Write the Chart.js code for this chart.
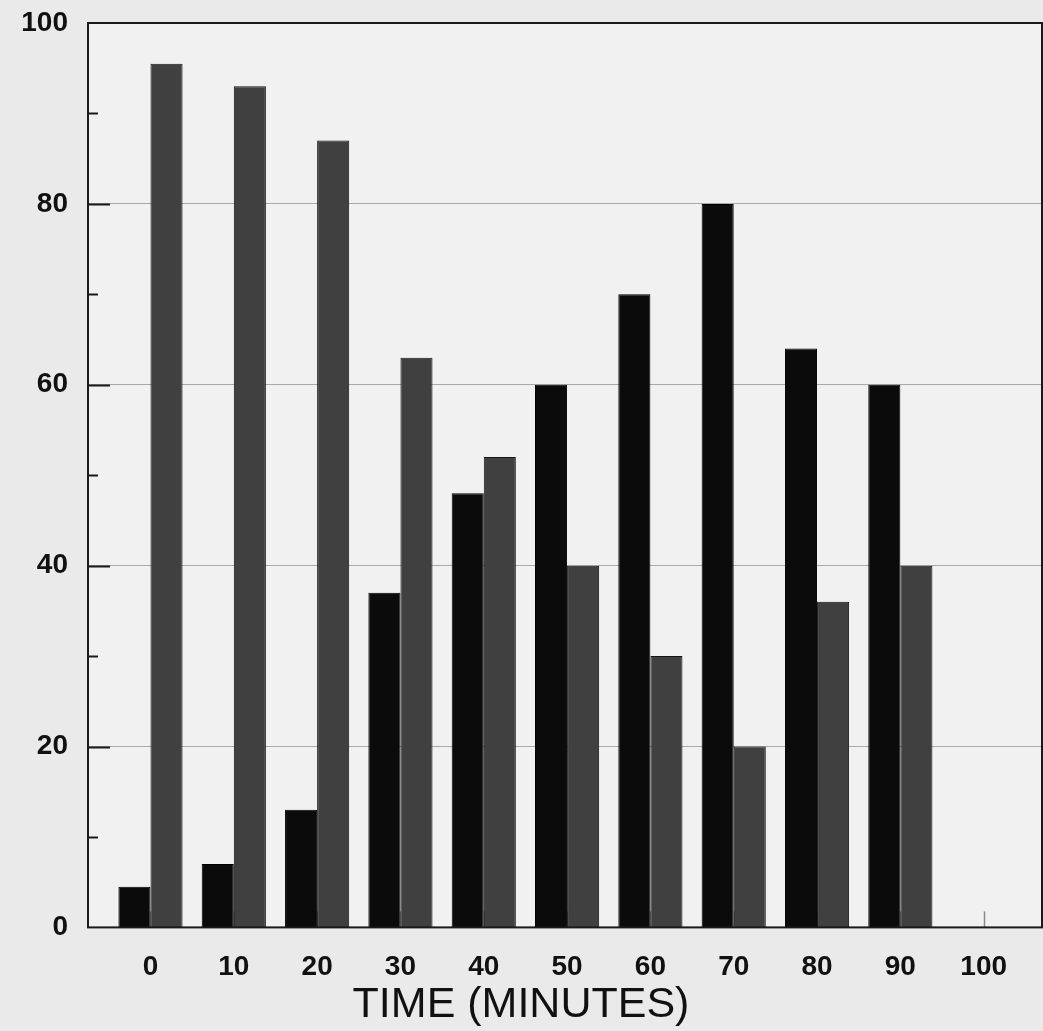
<!DOCTYPE html>
<html>
<head>
<meta charset="utf-8">
<script src="https://cdn.jsdelivr.net/npm/chart.js@4"></script>
<style>
  html,body{margin:0;padding:0;background:#eaeaea;}
  #wrap{width:1043px;height:1031px;}
</style>
</head>
<body>
<div id="wrap"><canvas id="c" width="1043" height="1031"></canvas></div>
<script>
// data
const times = [0, 10, 20, 30, 40, 50, 60, 70, 80, 90];
const xTicks = [0, 10, 20, 30, 40, 50, 60, 70, 80, 90, 100];
const blackVals = [4.5, 7, 13, 37, 48, 60, 70, 80, 64, 60];
const grayVals = [95.5, 93, 87, 63, 52, 40, 30, 20, 36, 40];
const yLabelTicks = [0, 20, 40, 60, 80, 100];

const toPts = vals => vals.map((v, i) => ({x: times[i], y: v}));

// background + frame + inward ticks
const paper = {
  id: 'paper',
  beforeDraw(chart) {
    const {ctx, chartArea: {left, right, top, bottom}} = chart;
    ctx.save();
    ctx.fillStyle = '#eaeaea';
    ctx.fillRect(0, 0, chart.width, chart.height);
    ctx.fillStyle = '#f1f1f1';
    ctx.fillRect(left, top, right - left, bottom - top);
    ctx.restore();
  },
  beforeDatasetsDraw(chart) {
    const {ctx, chartArea: {bottom}, scales: {x}} = chart;
    ctx.save();
    ctx.strokeStyle = '#8a8a8a';
    ctx.lineWidth = 1.5;
    xTicks.forEach(v => {
      const px = Math.round(x.getPixelForValue(v)) + 0.5;
      ctx.beginPath(); ctx.moveTo(px, bottom); ctx.lineTo(px, bottom - 16); ctx.stroke();
    });
    ctx.restore();
  },
  afterDatasetsDraw(chart) {
    const {ctx, chartArea: {left, right, top, bottom}, scales: {y}} = chart;
    ctx.save();
    ctx.strokeStyle = '#1a1a1a';
    ctx.lineWidth = 2;
    ctx.strokeRect(left, top, right - left, bottom - top);
    for (let v = 10; v < 100; v += 10) {
      const py = Math.round(y.getPixelForValue(v)) + 0.5;
      const len = v % 20 === 0 ? 22 : 10;
      ctx.beginPath(); ctx.moveTo(left, py); ctx.lineTo(left + len, py); ctx.stroke();
    }
    ctx.restore();
  }
};

const tickFont = {family: 'Liberation Sans', size: 28, weight: 'bold'};

new Chart(document.getElementById('c'), {
  type: 'bar',
  data: {
    datasets: [
      {data: toPts(blackVals), backgroundColor: '#0b0b0b', borderColor: '#000', borderWidth: 1},
      {data: toPts(grayVals), backgroundColor: '#404040', borderColor: '#151515', borderWidth: 1}
    ]
  },
  options: {
    responsive: false,
    animation: false,
    layout: {padding: {left: 0, top: 23, right: 1, bottom: 0}},
    datasets: {bar: {barPercentage: 1, categoryPercentage: 0.77}},
    scales: {
      x: {
        type: 'linear', min: -7.5, max: 107, offset: false,
        afterBuildTicks: s => { s.ticks = xTicks.map(v => ({value: v})); },
        afterFit: s => { s.height = 52; s.paddingLeft = 0; s.paddingRight = 0; },
        grid: {display: false, drawTicks: false},
        border: {display: false},
        ticks: {color: '#111', padding: 23, font: tickFont, maxRotation: 0}
      },
      y: {
        min: 0, max: 100,
        afterBuildTicks: s => { s.ticks = yLabelTicks.map(v => ({value: v})); },
        afterFit: s => { s.width = 88; s.paddingTop = 0; s.paddingBottom = 0; },
        grid: {color: ctx => (ctx.tick && ctx.tick.value > 0 && ctx.tick.value < 100) ? '#a8a8a8' : 'rgba(0,0,0,0)', lineWidth: 1, drawTicks: false},
        border: {display: false},
        ticks: {color: '#111', padding: 20, font: tickFont}
      }
    },
    plugins: {
      legend: {display: false},
      tooltip: {enabled: false},
      title: {
        display: true, position: 'bottom', text: 'TIME (MINUTES)',
        color: '#111', font: {family: 'Liberation Sans', size: 43, weight: 'normal'},
        padding: {top: 0, bottom: 0}
      }
    }
  },
  plugins: [paper]
});
</script>
</body>
</html>
